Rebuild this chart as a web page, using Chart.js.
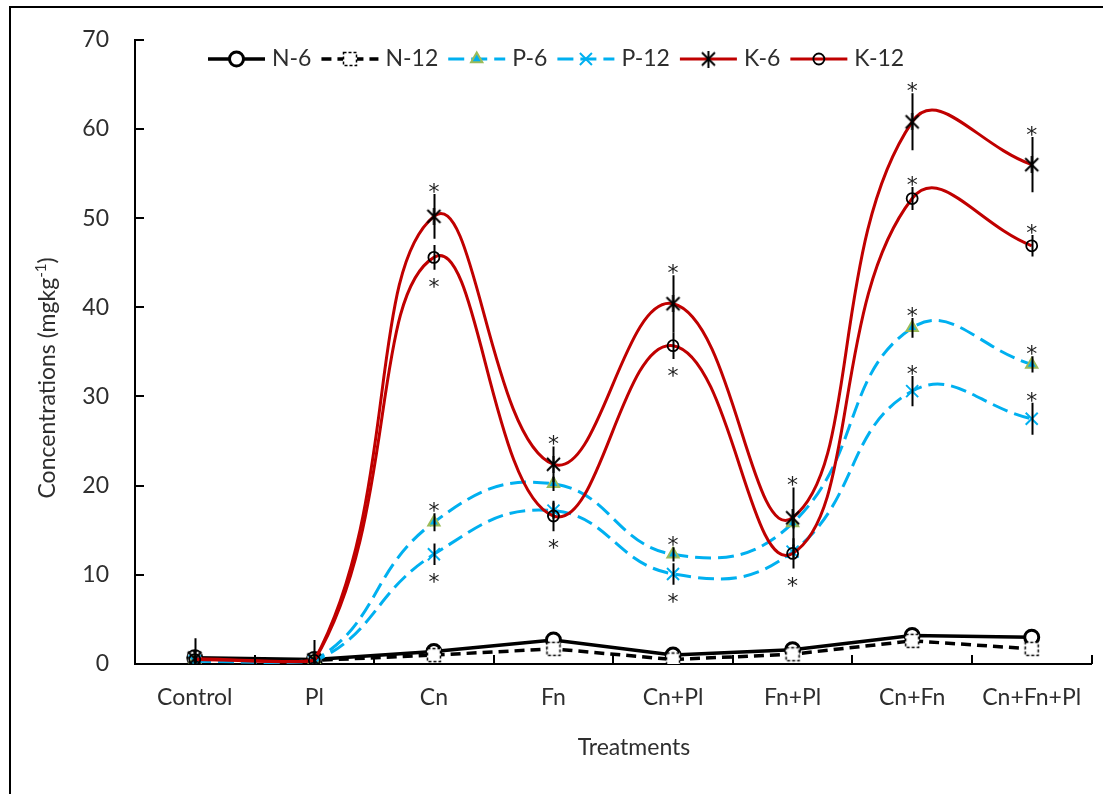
<!DOCTYPE html>
<html>
<head>
<meta charset="utf-8">
<script src="https://cdn.jsdelivr.net/npm/chart.js@4.4.0/dist/chart.umd.min.js"></script>
<style>
    html, body { margin: 0; padding: 0; background: #fff; }
    #wrap { position: relative; width: 1103px; height: 794px; overflow: hidden; }
    #frame { position: absolute; left: 9px; top: 6px; width: 1200px; height: 900px;
             border-left: 2px solid #000; border-top: 2px solid #000; }
    #chart { position: absolute; left: 0; top: 0; }
</style>
</head>
<body>
<div id="wrap">
    <div id="frame"></div>
    <canvas id="chart" width="1103" height="794"></canvas>
</div>
<script>
const treatments = ['Control', 'Pl', 'Cn', 'Fn', 'Cn+Pl', 'Fn+Pl', 'Cn+Fn', 'Cn+Fn+Pl'];
const yTicks = [0, 10, 20, 30, 40, 50, 60, 70];

const n6 = [0.7, 0.5, 1.4, 2.7, 1.0, 1.6, 3.2, 3.0];
const n12 = [0.6, 0.4, 1.0, 1.7, 0.5, 1.1, 2.6, 1.7];
const p6 = [0.4, 0.4, 15.9, 20.2, 12.3, 15.8, 37.7, 33.6];
const p12 = [0.3, 0.3, 12.3, 17.2, 10.1, 12.6, 30.6, 27.5];
const k6 = [0.6, 0.4, 50.2, 22.4, 40.4, 16.4, 60.8, 56.0];
const k12 = [0.5, 0.4, 45.6, 16.6, 35.7, 12.4, 52.2, 46.9];

const k6Err = [2.3, 2.3, 2.5, 2.0, 3.2, 3.4, 3.2, 3.1];
const k12Err = [0.3, 0.3, 1.4, 1.7, 1.5, 1.7, 1.3, 1.2];
const p6Err = [0.3, 0.3, 1.0, 0.8, 0.8, 0.6, 1.1, 0.9];
const p12Err = [0.3, 0.3, 1.2, 0.9, 1.2, 0.8, 1.7, 1.8];

// where the significance asterisk sits: above or below the error bar
const k6Star = ['', '', 'up', 'up', 'up', 'up', 'up', 'up'];
const k12Star = ['', '', 'down', 'down', 'down', 'down', 'up', 'up'];
const p6Star = ['', '', 'up', '', 'up', '', 'up', 'up'];
const p12Star = ['', '', 'down', '', 'down', '', 'up', 'up'];

const FONT = 'Lato';
const TEXT = '#2e2e2e';
const RED = '#C00000';
const BLUE = '#00B0F0';

function squareMarker() {
    const c = document.createElement('canvas');
    c.width = 18; c.height = 18;
    const g = c.getContext('2d');
    g.fillStyle = '#fff';
    g.fillRect(2, 2, 14, 14);
    g.setLineDash([3, 2]);
    g.strokeStyle = '#000';
    g.lineWidth = 1.5;
    g.strokeRect(2.5, 2.5, 13, 13);
    return c;
}

function starMarker() {
    const c = document.createElement('canvas');
    c.width = 17; c.height = 17;
    const g = c.getContext('2d');
    g.strokeStyle = '#000';
    g.lineWidth = 2;
    g.beginPath();
    g.moveTo(2, 2); g.lineTo(15, 15);
    g.moveTo(15, 2); g.lineTo(2, 15);
    g.moveTo(8.5, 0); g.lineTo(8.5, 17);
    g.stroke();
    return c;
}

const datasets = [
    { label: 'N-6', data: n6, borderColor: '#000', borderWidth: 3.5, tension: 0,
      pointStyle: 'circle', pointRadius: 7, pointBorderWidth: 3,
      pointBackgroundColor: '#fff', pointBorderColor: '#000', order: 5 },
    { label: 'N-12', data: n12, borderColor: '#000', borderWidth: 3.5, borderDash: [10, 6], tension: 0,
      pointStyle: squareMarker(), pointRadius: 8, order: 4 },
    { label: 'P-6', data: p6, borderColor: BLUE, borderWidth: 3, borderDash: [16, 7], tension: 0.45,
      pointStyle: 'triangle', pointRadius: 6.5, pointBorderWidth: 2,
      pointBackgroundColor: BLUE, pointBorderColor: '#9BBB59', order: 3 },
    { label: 'P-12', data: p12, borderColor: BLUE, borderWidth: 3, borderDash: [16, 7], tension: 0.45,
      pointStyle: 'crossRot', pointRadius: 8.5, pointBorderWidth: 2,
      pointBorderColor: BLUE, order: 2 },
    { label: 'K-6', data: k6, borderColor: RED, borderWidth: 3, tension: 0.45,
      pointStyle: starMarker(), pointRadius: 8, order: 1 },
    { label: 'K-12', data: k12, borderColor: RED, borderWidth: 3, tension: 0.45,
      pointStyle: 'circle', pointRadius: 5.5, pointBorderWidth: 1.8,
      pointBackgroundColor: 'rgba(0,0,0,0)', pointBorderColor: '#000', order: 0 }
];

const errorSeries = [
    [k6, k6Err, k6Star],
    [k12, k12Err, k12Star],
    [p6, p6Err, p6Star],
    [p12, p12Err, p12Star]
];

const errorBars = {
    id: 'errorBars',
    afterDatasetsDraw(chart) {
        const ctx = chart.ctx, xs = chart.scales.x, ys = chart.scales.y, area = chart.chartArea;
        ctx.save();
        ctx.beginPath();
        ctx.rect(area.left, area.top, area.right - area.left, area.bottom - area.top);
        ctx.clip();
        ctx.strokeStyle = '#000';
        ctx.lineWidth = 2;
        errorSeries.forEach(([vals, errs]) => {
            vals.forEach((v, i) => {
                const x = Math.round(xs.getPixelForValue(i)) + 0.5;
                ctx.beginPath();
                ctx.moveTo(x, ys.getPixelForValue(v + errs[i]));
                ctx.lineTo(x, ys.getPixelForValue(v - errs[i]));
                ctx.stroke();
            });
        });
        ctx.restore();

        ctx.save();
        ctx.fillStyle = '#222';
        ctx.font = '22px "DejaVu Sans"';
        ctx.textAlign = 'center';
        ctx.textBaseline = 'alphabetic';
        errorSeries.forEach(([vals, errs, stars]) => {
            vals.forEach((v, i) => {
                if (!stars[i]) return;
                const x = xs.getPixelForValue(i);
                if (stars[i] === 'up') {
                    ctx.fillText('*', x, ys.getPixelForValue(v + errs[i]) + 5);
                } else {
                    ctx.fillText('*', x, ys.getPixelForValue(v - errs[i]) + 24);
                }
            });
        });
        ctx.restore();
    }
};

// Excel style tick marks pointing into the plot
const insideTicks = {
    id: 'insideTicks',
    afterDraw(chart) {
        const ctx = chart.ctx, xs = chart.scales.x, ys = chart.scales.y, area = chart.chartArea;
        ctx.save();
        ctx.strokeStyle = '#000';
        ctx.lineWidth = 2;
        ctx.beginPath();
        yTicks.forEach(t => {
            const y = Math.round(ys.getPixelForValue(t));
            ctx.moveTo(area.left, y);
            ctx.lineTo(area.left + 9, y);
        });
        for (let i = 0; i <= treatments.length; i++) {
            const x = Math.round(xs.getPixelForValue(i - 0.5));
            ctx.moveTo(x, area.bottom);
            ctx.lineTo(x, area.bottom - 9);
        }
        ctx.stroke();
        ctx.restore();
    }
};

const axisTitles = {
    id: 'axisTitles',
    afterDraw(chart) {
        const ctx = chart.ctx;
        ctx.save();
        ctx.fillStyle = TEXT;
        ctx.textBaseline = 'middle';
        ctx.textAlign = 'center';
        ctx.font = '23px ' + FONT;
        ctx.fillText('Treatments', 634, 748);

        // y title with superscript
        ctx.translate(48, 378);
        ctx.rotate(-Math.PI / 2);
        ctx.textAlign = 'left';
        const main = 'Concentrations (mgkg';
        ctx.font = '23px ' + FONT;
        const w1 = ctx.measureText(main).width;
        const w3 = ctx.measureText(')').width;
        ctx.font = '15px ' + FONT;
        const w2 = ctx.measureText('-1').width;
        let x = -(w1 + w2 + w3) / 2;
        ctx.font = '23px ' + FONT;
        ctx.fillText(main, x, 0);
        x += w1;
        ctx.font = '15px ' + FONT;
        ctx.fillText('-1', x, -7);
        x += w2;
        ctx.font = '23px ' + FONT;
        ctx.fillText(')', x, 0);
        ctx.restore();
    }
};

const lineLegend = {
    id: 'lineLegend',
    afterDraw(chart) {
        const ctx = chart.ctx;
        let x = 208;
        const y = 59;
        ctx.save();
        ctx.font = '23px ' + FONT;
        ctx.textBaseline = 'middle';
        chart.data.datasets.forEach(ds => {
            ctx.save();
            ctx.strokeStyle = ds.borderColor;
            ctx.lineWidth = ds.borderWidth;
            ctx.setLineDash(ds.borderDash || []);
            ctx.beginPath();
            ctx.moveTo(x, y);
            ctx.lineTo(x + 57, y);
            ctx.stroke();
            ctx.restore();

            ctx.save();
            ctx.fillStyle = ds.pointBackgroundColor || 'rgba(0,0,0,0)';
            ctx.strokeStyle = ds.pointBorderColor || '#000';
            ctx.lineWidth = ds.pointBorderWidth || 1;
            Chart.helpers.drawPoint(ctx, {
                pointStyle: ds.pointStyle, radius: ds.pointRadius,
                borderWidth: ds.pointBorderWidth || 1, rotation: 0
            }, x + 28.5, y);
            ctx.restore();

            ctx.fillStyle = TEXT;
            ctx.fillText(ds.label, x + 64, y);
            x += 64 + ctx.measureText(ds.label).width + 10;
        });
        ctx.restore();
    }
};

new Chart(document.getElementById('chart'), {
    type: 'line',
    data: { labels: treatments, datasets: datasets },
    options: {
        responsive: false,
        animation: false,
        layout: { padding: { left: 0, right: 9, top: 38, bottom: 0 } },
        plugins: {
            legend: { display: false },
            tooltip: { enabled: false }
        },
        scales: {
            x: {
                offset: true,
                grid: { display: true, drawOnChartArea: false, drawTicks: false },
                border: { color: '#000', width: 2 },
                ticks: { color: TEXT, font: { family: FONT, size: 23 }, padding: 20, maxRotation: 0 },
                afterFit: s => { s.height = 130; }
            },
            y: {
                min: 0,
                max: 70,
                grid: { display: true, drawOnChartArea: false, drawTicks: false },
                border: { color: '#000', width: 2 },
                ticks: { color: TEXT, font: { family: FONT, size: 23 }, padding: 26, stepSize: 10,
                         callback: (v) => yTicks.includes(v) ? String(v) : '' },
                afterFit: s => { s.width = 135; }
            }
        }
    },
    plugins: [errorBars, insideTicks, axisTitles, lineLegend]
});
</script>
</body>
</html>
